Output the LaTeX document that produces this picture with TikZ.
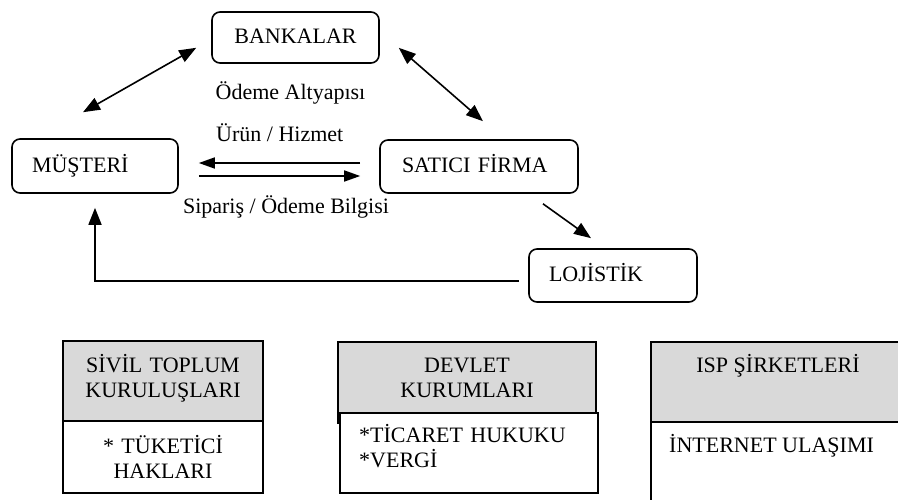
\documentclass[tikz,border=0pt]{standalone}
\usepackage{fontspec}
\setmainfont{Liberation Serif}
\usetikzlibrary{arrows.meta}
\definecolor{hdrgray}{RGB}{217,217,217}
\begin{document}
\begin{tikzpicture}[x=1pt,y=-1pt,
  font=\fontsize{22}{25}\selectfont,
  mainbox/.style={draw, rounded corners=8pt, line width=1.6pt, text height=16pt, text depth=4pt, inner ysep=0pt},
  hdrbox/.style={draw, line width=1.5pt, fill=hdrgray, inner sep=0pt},
  bodybox/.style={draw, line width=1.5pt, fill=white, inner sep=0pt},
  lbl/.style={inner sep=0pt},
  arr/.style={line width=1.6pt, -{Triangle[length=17pt,width=13pt]}},
  dbl/.style={line width=1.6pt, {Triangle[length=17pt,width=13pt]}-{Triangle[length=17pt,width=13pt]}},
  harr/.style={line width=1.6pt, -{Triangle[length=16pt,width=11pt]}}]
\useasboundingbox (0,0) rectangle (898,499);
\clip (0,0) rectangle (898,499);
\fill[white] (0,0) rectangle (898,499);

% main nodes
\node[mainbox, minimum width=167pt, minimum height=51pt, inner xsep=10pt, text width=147pt, align=center] (b) at (295.5,37.5) {BANKALAR};
\node[mainbox, minimum width=166pt, minimum height=54pt, inner xsep=20pt, text width=126pt, align=left] (m) at (95,166) {MÜŞTERİ};
\node[mainbox, minimum width=198pt, minimum height=53pt, inner xsep=22pt, text width=154pt, align=left] (s) at (479,166.5) {SATICI FİRMA};
\node[mainbox, minimum width=168pt, minimum height=53pt, inner xsep=20pt, text width=128pt, align=left] (l) at (613,275.5) {LOJİSTİK};

% labels
\node[lbl, anchor=base] (odeme) at (290.5,99) {Ödeme Altyapısı};
\node[lbl, anchor=base west] (urun) at (216,141) {Ürün / Hizmet};
\node[lbl, anchor=base] (sip) at (286,213) {Sipariş / Ödeme Bilgisi};

% connectors
\draw[dbl] ([xshift=-12pt,yshift=26pt]m.north) -- ([xshift=-15pt,yshift=16pt]b.south west);
\draw[dbl] ([xshift=19pt,yshift=16pt]b.south east) -- ([xshift=4pt,yshift=18pt]s.north);
\draw[harr] ([xshift=-19pt,yshift=3.5pt]s.west) -- ([xshift=20pt,yshift=3pt]m.east);
\draw[harr] ([xshift=20pt,yshift=-10pt]m.east) -- ([xshift=-19pt,yshift=-9.5pt]s.west);
\draw[arr] ([xshift=64pt,yshift=-10pt]s.south) -- ([xshift=-22pt,yshift=10pt]l.north);
\draw[arr] ([xshift=-9pt,yshift=-5.5pt]l.west) -| ([yshift=-14pt]m.south);

% bottom boxes
\node[hdrbox, minimum width=200pt, minimum height=80pt] (h1) at (163,381) {};
\node[bodybox, minimum width=200pt, minimum height=72pt] (d1) at (163,457) {};
\node[lbl, anchor=base, text width=200pt, align=center] (h1t) at (163,372) {SİVİL TOPLUM\\KURULUŞLARI};
\node[lbl, anchor=base, text width=200pt, align=center] (d1t) at (163,453) {* TÜKETİCİ\\HAKLARI};

\node[hdrbox, minimum width=258pt, minimum height=81pt] (h2) at (467,382.5) {};
\node[bodybox, minimum width=258pt, minimum height=80pt] (d2) at (469,453) {};
\node[lbl, anchor=base, text width=258pt, align=center] (h2t) at (467,372) {DEVLET\\KURUMLARI};
\node[lbl, anchor=base west, text width=230pt, align=left] (d2t) at (359,442) {*TİCARET HUKUKU\\{}*VERGİ};

\node[hdrbox, minimum width=254pt, minimum height=80pt] (h3) at (778,382) {};
\node[bodybox, minimum width=254pt, minimum height=98pt] (d3) at (778,471) {};
\node[lbl, anchor=base] (h3t) at (778,372) {ISP ŞİRKETLERİ};
\node[lbl, anchor=base west] (d3t) at (669,452) {İNTERNET ULAŞIMI};
\end{tikzpicture}
\end{document}
